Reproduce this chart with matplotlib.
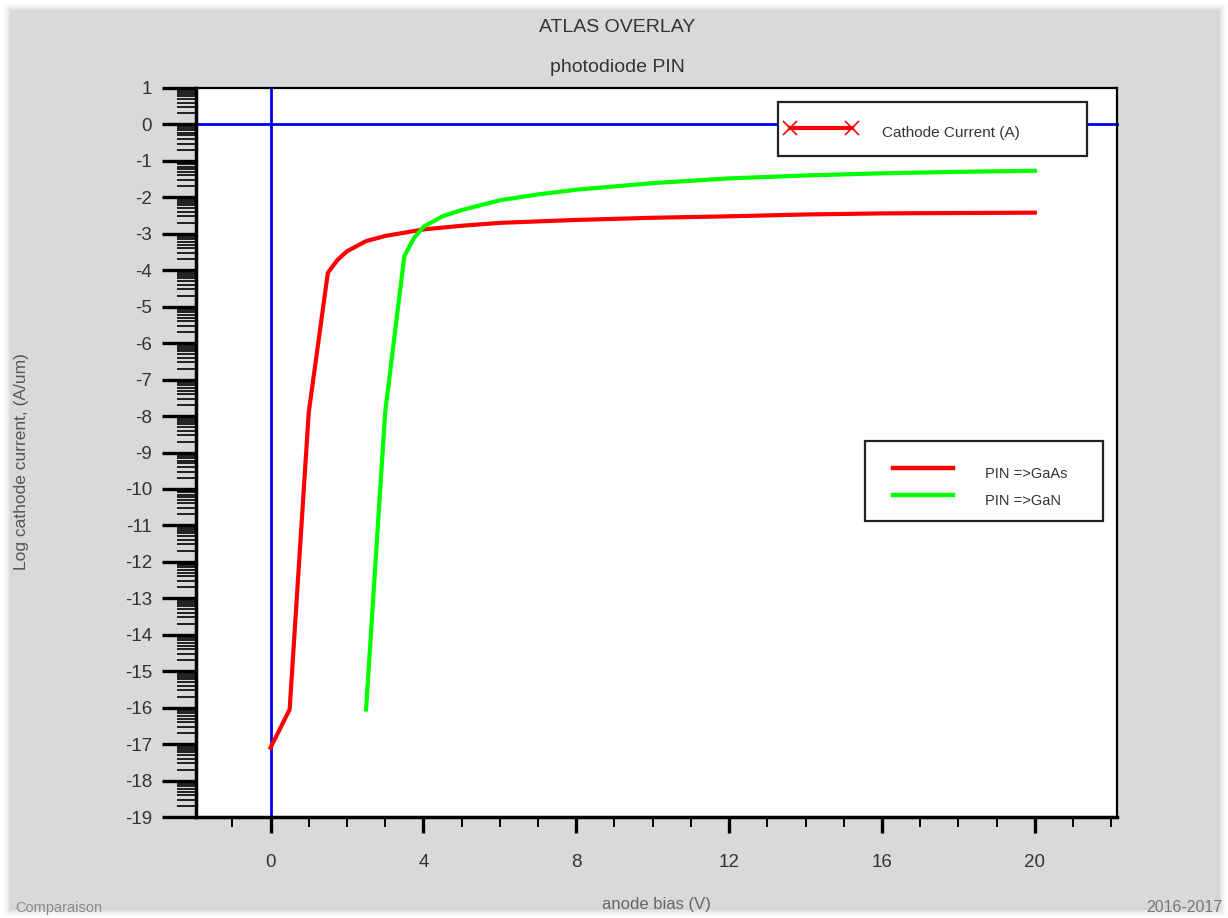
import numpy as np
import matplotlib
matplotlib.use("Agg")
import matplotlib.pyplot as plt
from matplotlib.patches import Rectangle
from matplotlib.lines import Line2D
from matplotlib.ticker import MultipleLocator, FixedLocator

plt.rcParams['font.family'] = ['Liberation Sans', 'DejaVu Sans']

# ---- data ----
gaas_bias = [0.0, 0.5, 1.0, 1.5, 1.75, 2.0, 2.5, 3.0, 3.5, 4.0, 5.0, 6.0, 8.0,
             10.0, 12.0, 14.0, 16.0, 18.0, 20.0]
gaas_logI = [-17.1, -16.05, -7.9, -4.07, -3.72, -3.48, -3.2, -3.06, -2.97, -2.88,
             -2.78, -2.70, -2.62, -2.56, -2.52, -2.47, -2.44, -2.43, -2.42]
gan_bias = [2.5, 3.0, 3.5, 3.75, 4.0, 4.5, 5.0, 6.0, 7.0, 8.0, 10.0, 12.0, 14.0, 16.0,
            18.0, 20.0]
gan_logI = [-16.05, -7.9, -3.62, -3.12, -2.81, -2.52, -2.35, -2.08, -1.92, -1.79, -1.61,
            -1.48, -1.40, -1.34, -1.30, -1.27]
series_names = ["PIN =>GaAs", "PIN =>GaN"]
series_colors = ["#ff0000", "#00ff00"]
x_major_ticks = [0, 4, 8, 12, 16, 20]
y_ticks = list(range(-19, 2))

W, H = 1228, 918
fig = plt.figure(figsize=(W / 100, H / 100), dpi=100)
fig.patch.set_facecolor("white")


def fx(px):
    return px / W


def fy(py):
    return 1 - py / H


# grey panel with soft shadow
for i, a in enumerate([0.05, 0.08, 0.12, 0.2]):
    d = 8 - 2 * i
    fig.patches.append(Rectangle((fx(12 - d), fy(908 + d)), fx(1206 + 2 * d), (896 + 2 * d) / H,
                                 transform=fig.transFigure, facecolor="#9a9a9a", alpha=a,
                                 edgecolor="none", zorder=-3))
fig.patches.append(Rectangle((fx(12), fy(906)), fx(1204), 894 / H,
                             transform=fig.transFigure, facecolor="#d9d9d9",
                             edgecolor="none", zorder=-2))

ax = fig.add_axes([fx(196), fy(817), fx(1117 - 196), (817 - 88) / H])
ax.set_zorder(1)
ax.set_facecolor("white")
ax.set_xlim(-1.95, 22.15)
ax.set_ylim(-19, 1)

ax.axhline(0, color="#0000ff", lw=2.0, zorder=2, clip_on=False)
ax.axvline(0, color="#0000ff", lw=2.0, zorder=2)

ax.plot(gaas_bias, gaas_logI, color=series_colors[0], lw=3.0, zorder=3)
ax.plot(gan_bias, gan_logI, color=series_colors[1], lw=3.0, zorder=3)

for side, lw in [("left", 2.5), ("bottom", 2.5), ("top", 1.6), ("right", 1.6)]:
    ax.spines[side].set_linewidth(lw)
    ax.spines[side].set_color("black")

ax.xaxis.set_major_locator(FixedLocator(x_major_ticks))
ax.xaxis.set_minor_locator(MultipleLocator(1))
ax.set_xticklabels([str(v) for v in x_major_ticks])
ax.yaxis.set_major_locator(FixedLocator(y_ticks))
ax.set_yticklabels([str(v) for v in y_ticks])
minor_y = [n + np.log10(k) for n in range(-19, 1) for k in range(2, 10)]
ax.yaxis.set_minor_locator(FixedLocator(minor_y))

ax.tick_params(axis="x", which="major", direction="out", length=11.5, width=2.4,
               pad=15, labelsize=13.5, labelcolor="#333333")
ax.tick_params(axis="x", which="minor", direction="out", length=7, width=1.4)
ax.tick_params(axis="y", which="major", direction="out", length=24.5, width=2.4,
               pad=7, labelsize=13.5, labelcolor="#333333")
ax.tick_params(axis="y", which="minor", direction="out", length=13.5, width=1.2)

# titles and labels
fig.text(0.5025, fy(27), "ATLAS OVERLAY", ha="center", va="center", fontsize=14, color="#333333")
fig.text(0.5025, fy(67), "photodiode PIN", ha="center", va="center", fontsize=14, color="#333333")
fig.text(fx(22), fy(462), "Log cathode current, (A/um)", rotation=90, ha="center", va="center",
         fontsize=12.5, color="#555555")
fig.text(fx(656), fy(905), "anode bias (V)", ha="center", va="center", fontsize=12, color="#666666")
fig.text(fx(15), fy(908), "Comparaison", ha="left", va="center", fontsize=10.5, color="#8a8a8a")
fig.text(fx(1222), fy(908), "2016-2017", ha="right", va="center", fontsize=11.5, color="#777777")

# legend 1 (Cathode Current)
fig.patches.append(Rectangle((fx(778), fy(156)), fx(1087 - 778), (156 - 102) / H,
                             transform=fig.transFigure, facecolor="white", edgecolor="#222222",
                             lw=1.6, zorder=5))
fig.lines.append(Line2D([fx(790), fx(852)], [fy(128), fy(128)], transform=fig.transFigure,
                        color="#ff0000", lw=3, marker="x", markersize=10, markeredgewidth=1.2,
                        zorder=6))
fig.text(fx(882), fy(133), "Cathode Current (A)", ha="left", va="center", fontsize=11,
         color="#333333", zorder=6)

# legend 2 (series)
fig.patches.append(Rectangle((fx(865), fy(521)), fx(1103 - 865), (521 - 441) / H,
                             transform=fig.transFigure, facecolor="white", edgecolor="#222222",
                             lw=1.6, zorder=5))
for i, (name, col) in enumerate(zip(series_names, series_colors)):
    yy = 468 + 27 * i
    fig.lines.append(Line2D([fx(893), fx(953)], [fy(yy), fy(yy)], transform=fig.transFigure,
                            color=col, lw=3.2, zorder=6))
    fig.text(fx(985), fy(yy + 6), name, ha="left", va="center", fontsize=10.5,
             color="#333333", zorder=6)

fig.savefig("out.png", dpi=100, facecolor="white")
